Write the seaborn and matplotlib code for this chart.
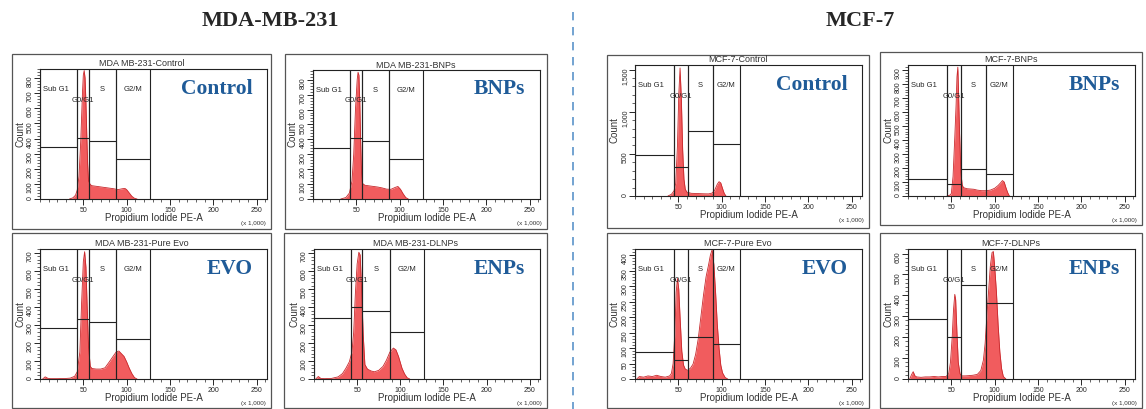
import matplotlib
matplotlib.use("Agg")
import matplotlib.pyplot as plt
import matplotlib.ticker as mticker
from matplotlib.patches import Rectangle
from matplotlib.lines import Line2D
import seaborn as sns

W, H = 1146, 409

# ---- histogram outlines (x = PE-A / 1000, y = count) ----
mda_control_x = [34, 38, 41, 43, 45, 47, 49, 50, 51, 52, 53, 54, 55, 56, 58, 60, 65, 70, 75, 80, 85, 90, 95, 98, 100, 103, 106, 109, 112]
mda_control_y = [0, 8, 25, 60, 150, 380, 700, 820, 850, 800, 640, 420, 230, 120, 95, 88, 84, 80, 76, 72, 68, 62, 68, 70, 62, 40, 18, 5, 0]

mda_bnps_x = [32, 38, 42, 45, 47, 49, 51, 52, 53, 54, 55, 56, 57, 60, 65, 70, 75, 80, 85, 90, 95, 98, 101, 104, 107, 110]
mda_bnps_y = [0, 10, 40, 120, 300, 600, 800, 850, 830, 650, 380, 180, 105, 92, 88, 84, 80, 74, 66, 65, 78, 84, 65, 35, 10, 0]

mda_evo_x = [3, 6, 9, 12, 20, 30, 35, 40, 43, 46, 48, 50, 51.5, 53, 54.5, 56, 58, 60, 65, 70, 75, 80, 85, 88, 91, 94, 97, 100, 103, 106, 109, 112]
mda_evo_y = [0, 12, 4, 2, 2, 3, 5, 15, 40, 150, 420, 650, 705, 620, 390, 180, 70, 58, 55, 55, 62, 95, 130, 150, 155, 140, 125, 95, 60, 30, 8, 0]

mda_enps_x = [2, 5, 8, 12, 20, 28, 33, 37, 41, 44, 46, 48, 50, 52, 53.5, 55, 57, 59, 62, 66, 70, 75, 80, 84, 88, 92, 95, 98, 102, 105, 108, 111]
mda_enps_y = [0, 14, 3, 2, 3, 12, 30, 60, 96, 150, 260, 480, 640, 705, 690, 520, 250, 80, 55, 45, 40, 48, 70, 105, 150, 172, 162, 125, 60, 28, 7, 0]

mcf_control_x = [38, 42, 45, 47, 49, 50.5, 52, 53.5, 55, 56.5, 58, 60, 65, 70, 75, 80, 85, 89, 92, 95, 97, 99, 101, 103, 105]
mcf_control_y = [0, 20, 60, 150, 600, 1200, 1520, 1150, 550, 200, 80, 45, 32, 30, 28, 26, 25, 35, 70, 140, 170, 155, 90, 30, 0]

mcf_bnps_x = [45, 48, 50, 52, 54, 55.5, 56.5, 57.5, 58.5, 59.5, 61, 62.5, 64, 68, 72, 76, 80, 85, 90, 95, 100, 104, 107, 109, 111, 113, 115, 117]
mcf_bnps_y = [0, 5, 17, 140, 420, 650, 850, 920, 700, 450, 170, 80, 60, 52, 50, 48, 42, 38, 38, 42, 55, 75, 95, 110, 100, 60, 25, 0]

mcf_evo_x = [2, 5, 10, 15, 20, 25, 30, 35, 40, 42, 44, 46, 47.5, 49, 50.5, 52, 54, 56, 58, 61, 64, 67, 70, 73, 76, 79, 82, 85, 87, 89, 91, 93, 95, 97, 99, 101, 104, 107]
mcf_evo_y = [0, 8, 6, 10, 8, 12, 8, 6, 10, 18, 50, 150, 280, 325, 290, 200, 90, 45, 32, 28, 35, 48, 80, 130, 200, 270, 330, 370, 400, 418, 370, 280, 175, 100, 45, 20, 5, 0]

mcf_enps_x = [2, 4, 6, 8, 10, 15, 20, 25, 30, 35, 40, 44, 47, 49, 51, 52.5, 54, 55, 56.5, 58, 60, 62, 66, 70, 75, 80, 84, 87, 89, 91, 93, 95, 97, 98.5, 100, 102, 104, 106, 108, 110, 113]
mcf_enps_y = [0, 20, 35, 15, 10, 8, 10, 10, 12, 10, 12, 12, 25, 80, 200, 330, 405, 380, 220, 80, 25, 15, 15, 16, 18, 22, 40, 90, 170, 300, 420, 540, 605, 610, 540, 420, 260, 130, 50, 12, 0]

# gate borders (Sub G1 | G0/G1 | S | G2/M) and the level of each gate marker
mda_gates = [0, 43, 56, 88, 127]
mcf_gates = [0, 44.5, 61, 89.5, 121.5]
gate_names = ["Sub G1", "G0/G1", "S", "G2/M"]

mda_control_levels = [341, 405, 381, 266]
mda_bnps_levels = [344, 407, 391, 269]
mda_evo_levels = [282, 333, 315, 220]
mda_enps_levels = [338, 403, 380, 263]
mcf_control_levels = [486, 348, 771, 617]
mcf_bnps_levels = [124, 88, 196, 155]
mcf_evo_levels = [86, 61, 137, 112]
mcf_enps_levels = [287, 202, 449, 365]

titles = ["MDA MB-231-Control", "MDA MB-231-BNPs", "MDA MB-231-Pure Evo", "MDA MB-231-DLNPs",
          "MCF-7-Control", "MCF-7-BNPs", "MCF-7-Pure Evo", "MCF-7-DLNPs"]
treatments = ["Control", "BNPs", "EVO", "ENPs", "Control", "BNPs", "EVO", "ENPs"]
y_top = [860, 865, 720, 723, 1555, 935, 420, 622]
y_step = [100, 100, 100, 100, 500, 100, 50, 100]

series = [
    (mda_control_x, mda_control_y, mda_gates, mda_control_levels),
    (mda_bnps_x, mda_bnps_y, mda_gates, mda_bnps_levels),
    (mda_evo_x, mda_evo_y, mda_gates, mda_evo_levels),
    (mda_enps_x, mda_enps_y, mda_gates, mda_enps_levels),
    (mcf_control_x, mcf_control_y, mcf_gates, mcf_control_levels),
    (mcf_bnps_x, mcf_bnps_y, mcf_gates, mcf_bnps_levels),
    (mcf_evo_x, mcf_evo_y, mcf_gates, mcf_evo_levels),
    (mcf_enps_x, mcf_enps_y, mcf_gates, mcf_enps_levels),
]

# layout in pixels: axes (l, t, r, b) and panel frame (l, t, r, b)
axes_px = [(40, 69, 267, 199), (313, 70, 540, 199), (40, 249, 267, 379), (314, 249, 540, 379),
           (635, 65, 862, 196), (908, 65, 1135, 196), (635, 249, 862, 379), (908, 249, 1135, 379)]
frame_px = [(12, 54, 271, 229), (285, 54, 547, 229), (12, 233, 271, 408), (284, 233, 547, 408),
            (607, 55, 869, 228), (880, 52, 1142, 225), (607, 233, 869, 408), (880, 233, 1142, 408)]


def fx(x):
    return x / W


def fy(y):
    return 1 - y / H


sns.set_style("ticks")
plt.rcParams['font.family'] = ['Liberation Sans', 'DejaVu Sans']

fig = plt.figure(figsize=(W / 100, H / 100), dpi=100)

FILL = "#f15c5e"
EDGE = "#c8282c"
LABEL_BLUE = "#1f5b98"
SERIF = ['Liberation Serif', 'DejaVu Serif']

for i, (xs, ys, gates, levels) in enumerate(series):
    l, t, r, b = axes_px[i]
    ax = fig.add_axes([fx(l), fy(b), fx(r) - fx(l), (b - t) / H])

    ax.fill_between(xs, ys, color=FILL, lw=0)
    sns.lineplot(x=xs, y=ys, ax=ax, color=EDGE, lw=0.6, legend=False)

    top = y_top[i]
    ax.set_xlim(0, 262)
    ax.set_ylim(0, top)

    # gates
    for k in range(4):
        a, c = gates[k], gates[k + 1]
        ax.vlines([a, c], 0, top, color="#222222", lw=0.8)
        ax.hlines(levels[k], a, c, color="#222222", lw=0.8)
    tr = ax.get_xaxis_transform()
    ax.text(gates[0] + 4, 0.84, gate_names[0], transform=tr, fontsize=5.5, ha="left", va="center")
    ax.text((gates[1] + gates[2]) / 2, 0.76, gate_names[1], transform=tr, fontsize=5.5, ha="center", va="center")
    ax.text((gates[2] + gates[3]) / 2, 0.84, gate_names[2], transform=tr, fontsize=5.5, ha="center", va="center")
    ax.text((gates[3] + gates[4]) / 2, 0.84, gate_names[3], transform=tr, fontsize=5.5, ha="center", va="center")

    ax.text(0.935, 0.85, treatments[i], transform=ax.transAxes, ha="right", va="center",
            fontsize=15.5, fontweight="bold", color=LABEL_BLUE, family=SERIF)

    # ticks
    ax.xaxis.set_major_locator(mticker.FixedLocator([50, 100, 150, 200, 250]))
    ax.xaxis.set_minor_locator(mticker.MultipleLocator(10))
    ax.yaxis.set_major_locator(mticker.MultipleLocator(y_step[i]))
    ax.yaxis.set_minor_locator(mticker.MultipleLocator(y_step[i] / 5))
    ax.yaxis.set_major_formatter(mticker.FuncFormatter(lambda v, p: f"{int(v):,}"))
    ax.tick_params(which="major", length=4, width=0.7, labelsize=5, pad=2, direction="out")
    ax.tick_params(which="minor", length=2.5, width=0.5, direction="out")
    ax.tick_params(axis="y", labelrotation=90, pad=0.5)
    for s in ax.spines.values():
        s.set_visible(True)
        s.set_linewidth(0.8)
        s.set_color("#222222")
    ax.set_xlabel("")
    ax.set_ylabel("")

    # panel furniture
    fl, ft, fr, fb = frame_px[i]
    fig.add_artist(Rectangle((fx(fl), fy(fb)), fx(fr) - fx(fl), (fb - ft) / H,
                             transform=fig.transFigure, fill=False, ec="#555555", lw=0.9))
    fig.text(fx((fl + fr) / 2), fy(t - 5), titles[i], ha="center", va="center", fontsize=6.5, color="#333333")
    fig.text(fx((l + r) / 2), fy(b + 19), "Propidium Iodide PE-A", ha="center", va="center", fontsize=7, color="#333333")
    fig.text(fx(fr - 5), fy(b + 24), "(x 1,000)", ha="right", va="center", fontsize=4.5, color="#333333")
    fig.text(fx(l - 20), fy((t + b) / 2), "Count", ha="center", va="center", rotation=90, fontsize=7, color="#333333")

fig.text(fx(270), fy(21), "MDA-MB-231", ha="center", va="center", fontsize=16, fontweight="bold", family=SERIF)
fig.text(fx(860), fy(21), "MCF-7", ha="center", va="center", fontsize=16, fontweight="bold", family=SERIF)
fig.add_artist(Line2D([fx(573), fx(573)], [fy(12), fy(409)], transform=fig.transFigure,
                      color="#5b93c9", lw=1.2, ls=(0, (5, 4))))

fig.savefig("out.png", dpi=100)
